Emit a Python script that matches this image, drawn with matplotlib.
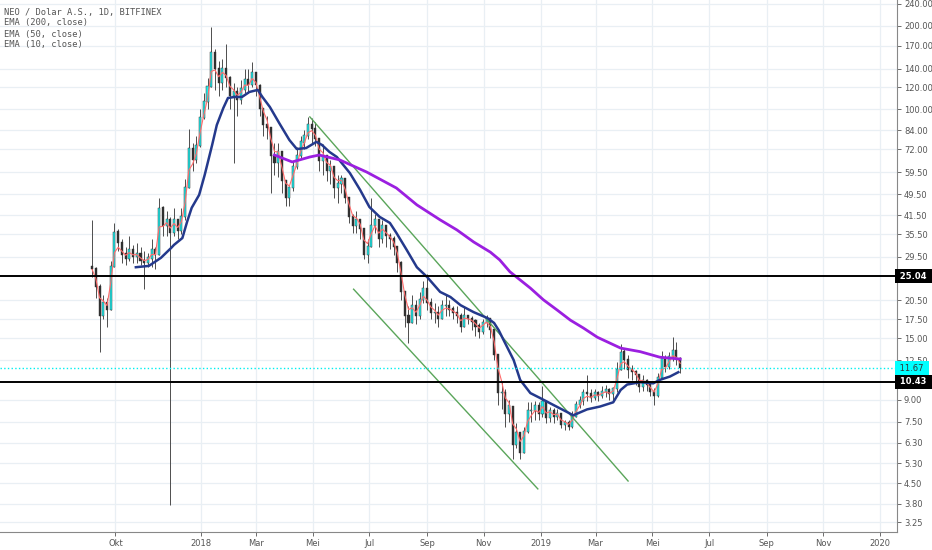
import numpy as np
import pandas as pd
import matplotlib
matplotlib.use("Agg")
import matplotlib.pyplot as plt
import matplotlib.dates as mdates
import matplotlib.transforms as mtransforms
from matplotlib.ticker import NullLocator

# 4-day candles, first one on 2017-09-06
candle_start = "2017-09-06"
first_open = 27.0
closes = [
    26.5, 23, 18, 20, 19, 27, 36, 33, 30, 29,
    31, 29.5, 30, 28.5, 28, 29, 31, 30, 44, 38,
    40, 36, 40, 36.5, 41, 52, 72, 66, 74, 93,
    106, 120, 160, 140, 125, 140, 130, 112, 115, 108,
    118, 128, 122, 135, 122, 100, 88, 86, 68, 64,
    70, 55, 48, 52, 62, 68, 76, 80, 88, 85,
    78, 65, 68, 60, 62, 52, 54, 56, 48, 41,
    38, 40, 37, 30, 32, 38, 40, 34, 38, 35,
    34, 32, 28, 22, 18, 17, 19.5, 18, 20.5, 22.5,
    20, 18.5, 18.5, 17.5, 19.5, 19.5, 19, 18.5, 18, 16.5,
    18, 17.5, 17.2, 16.5, 15.8, 17, 17.5, 16, 13, 9.5,
    9.5, 8, 8.5, 6.2, 6.8, 5.8, 6.9, 8.2, 8.2, 8.5,
    8, 8.8, 7.7, 8.2, 7.8, 8, 7.3, 7.4, 7.2, 7.8,
    8.6, 8.9, 9.5, 9.4, 9.1, 9.5, 9.3, 9.6, 9.7, 9.4,
    9.8, 11.5, 13.3, 12.5, 11.5, 11.3, 11, 10, 10.5, 10.2,
    9.6, 9.3, 10.8, 12.6, 11.8, 12.8, 13.5, 12.6, 11.67,
]
highs = [
    40, 27, 23.5, 21.5, 21, 28.5, 39, 37, 34, 32,
    35, 32.5, 33, 32, 31, 30.5, 34, 32, 48, 45,
    43, 41, 44, 40, 44, 56, 85, 76, 80, 100,
    115, 130, 198, 165, 150, 152, 172, 132, 125, 120,
    128, 140, 140, 148, 136, 124, 100, 95, 85, 76,
    76, 66, 53, 53, 65, 73, 80, 84, 94, 93,
    90, 78, 75, 68, 66, 60, 58, 58, 56, 47,
    42, 43, 40, 36, 34, 48, 42, 38, 40, 37,
    36, 35, 31, 28.5, 21.5, 19.5, 21.5, 20.5, 22, 24,
    25.5, 21, 20, 19.5, 20.5, 21.5, 20.5, 19.5, 19.5, 18.5,
    19.5, 18.2, 18, 17.5, 17, 17.5, 18.2, 17.5, 16, 12.5,
    10.5, 9.8, 9, 8.3, 7.4, 6.8, 7.2, 8.8, 8.8, 8.9,
    8.8, 10.1, 9, 8.5, 8.4, 8.3, 7.8, 7.6, 7.6, 8.2,
    8.9, 9.3, 9.8, 11, 9.8, 9.8, 9.7, 10.1, 10.2, 9.9,
    10, 12.3, 14.3, 13.8, 13, 12, 11.5, 11, 11, 10.7,
    10.2, 9.9, 11.2, 13.5, 13, 13.4, 15.1, 14.5, 12.8,
]
lows = [
    25, 21, 13.4, 17.5, 16.5, 19, 27, 31, 28, 27.5,
    28.5, 28, 28, 27.5, 22.6, 27, 27, 26.5, 30, 35,
    35, 3.75, 35, 34, 35.5, 40, 58, 60, 64, 73,
    92, 100, 125, 118, 112, 118, 120, 100, 64, 95,
    105, 115, 115, 120, 112, 95, 80, 78, 50, 58,
    57, 50, 45, 45, 51, 61, 67, 72, 78, 76,
    74, 60, 58, 55, 54, 48, 46, 50, 46, 39,
    36, 36, 34, 29, 28, 32, 36, 32, 33, 32,
    31.5, 30, 26, 20.5, 16.5, 14.4, 17, 16.8, 17.5, 20,
    19, 17.5, 17, 16.5, 17.5, 18, 18, 17.5, 17, 15.8,
    16.8, 16.8, 16, 15.3, 15, 15.5, 16.5, 15, 12.5, 8.6,
    8.3, 7.2, 7.5, 5.5, 6, 5.5, 5.9, 6.8, 7.5, 7.6,
    7.6, 7.8, 7.4, 7.5, 7.4, 7.6, 7.1, 7.0, 7.0, 7.1,
    7.8, 8.4, 8.6, 8.9, 8.8, 9, 8.9, 9.1, 9.2, 9,
    9, 9.6, 11.5, 11.6, 10.8, 10.6, 10.2, 9.6, 9.7, 9.7,
    9.3, 8.6, 9.2, 10.8, 11.3, 11.6, 12.4, 12.0, 11.2,
]

# EMA lines
ema50_dates = [
    "2017-10-23", "2017-11-06", "2017-11-19", "2017-11-30", "2017-12-03",
    "2017-12-12", "2017-12-17", "2017-12-22", "2017-12-30", "2018-01-05",
    "2018-01-13", "2018-01-18", "2018-01-25", "2018-01-30", "2018-02-06",
    "2018-02-14", "2018-02-22", "2018-03-03", "2018-03-08", "2018-03-16",
    "2018-03-26", "2018-04-06", "2018-04-14", "2018-04-24", "2018-05-05",
    "2018-05-11", "2018-05-19", "2018-05-27", "2018-06-10", "2018-06-21",
    "2018-07-01", "2018-07-12", "2018-07-23", "2018-07-30", "2018-08-10",
    "2018-08-21", "2018-09-01", "2018-09-15", "2018-09-26", "2018-10-07",
    "2018-10-21", "2018-11-05", "2018-11-12", "2018-11-17", "2018-11-22",
    "2018-12-03", "2018-12-10", "2018-12-21", "2019-01-01", "2019-01-15",
    "2019-01-30", "2019-02-05", "2019-02-20", "2019-03-06", "2019-03-20",
    "2019-03-28", "2019-04-04", "2019-04-18", "2019-05-02", "2019-05-09",
    "2019-05-20", "2019-05-29",
]
ema50_values = [
    27.0, 27.3, 29.2, 31.7, 32.5,
    34.4, 39.3, 44.2, 49.2, 58.1,
    74.5, 87.9, 101.2, 110.0, 110.9,
    110.9, 115.6, 117.6, 110.9, 102.1,
    89.4, 77.6, 72.0, 72.6, 76.4,
    74.5, 70.3, 67.4, 59.0, 51.3,
    44.5, 41.0, 39.0, 35.9, 31.2,
    27.0, 24.9, 22.0, 21.1, 19.7,
    18.6, 17.7, 17.0, 16.0, 14.8,
    12.5, 10.6, 9.5, 9.1, 8.6,
    8.1, 7.9, 8.3, 8.5, 8.8,
    9.75, 10.2, 10.4, 10.3, 10.6,
    10.9, 11.3,
]
ema200_dates = [
    "2018-03-21", "2018-04-09", "2018-04-17", "2018-04-28", "2018-05-08",
    "2018-05-30", "2018-06-28", "2018-07-30", "2018-08-21", "2018-09-15",
    "2018-10-03", "2018-10-21", "2018-11-08", "2018-11-18", "2018-11-29",
    "2018-12-06", "2018-12-21", "2019-01-04", "2019-01-19", "2019-02-02",
    "2019-02-16", "2019-03-03", "2019-03-28", "2019-04-18", "2019-05-09",
    "2019-05-31",
]
ema200_values = [
    68.5, 64.7, 65.8, 67.4, 68.5,
    65.8, 59.5, 52.1, 45.3, 40.0,
    36.8, 33.3, 30.6, 28.7, 26.0,
    24.9, 22.7, 20.6, 18.9, 17.4,
    16.3, 15.1, 13.8, 13.4, 12.8,
    12.6,
]

# drawn trendlines (start, end)
upper_trend_dates = ["2018-04-28", "2019-04-05"]
upper_trend_prices = [94.0, 4.58]
lower_trend_dates = ["2018-06-14", "2018-12-29"]
lower_trend_prices = [22.5, 4.29]

support_levels = [25.04, 10.43]
last_price = 11.67

ytick_values = [240, 200, 170, 140, 120, 100, 84, 72, 59.5, 49.5, 41.5, 35.5,
                29.5, 20.5, 17.5, 15, 12.5, 9, 7.5, 6.3, 5.3, 4.5, 3.8, 3.25]
xtick_dates = ["2017-10-01", "2018-01-01", "2018-03-01", "2018-05-01", "2018-07-01",
               "2018-09-01", "2018-11-01", "2019-01-01", "2019-03-01", "2019-05-01",
               "2019-07-01", "2019-09-01", "2019-11-01", "2020-01-01"]
xtick_labels = ["Okt", "2018", "Mar", "Mei", "Jul", "Sep", "Nov", "2019",
                "Mar", "Mei", "Jul", "Sep", "Nov", "2020"]
legend_lines = ["NEO / Dolar A.S., 1D, BITFINEX", "EMA (200, close)",
                "EMA (50, close)", "EMA (10, close)"]

# ---- build ----
dates = pd.date_range(candle_start, periods=len(closes), freq="4D")
close_arr = np.array(closes, dtype=float)
open_arr = np.concatenate([[first_open], close_arr[:-1]])
high_arr = np.maximum(np.array(highs, dtype=float), np.maximum(open_arr, close_arr))
low_arr = np.minimum(np.array(lows, dtype=float), np.minimum(open_arr, close_arr))
xnum = mdates.date2num(dates)

# EMA 10 on daily bars -> equivalent smoothing on 4-day bars
alpha4 = 1 - (1 - 2 / 11) ** 4
ema10 = pd.Series(close_arr).ewm(alpha=alpha4, adjust=False).mean().values

fig = plt.figure(figsize=(9.32, 5.5), dpi=100)
ax = fig.add_axes([0, 18 / 550, 897 / 932, 532 / 550])
ax.set_yscale("log")
ax.set_xlim(mdates.datestr2num("2017-05-30"), mdates.datestr2num("2020-01-19"))
ax.set_ylim(3.0, 248)

grid_c = "#e9eff4"
for d in xtick_dates:
    ax.axvline(mdates.datestr2num(d), color=grid_c, lw=0.9, zorder=0)
for v in ytick_values:
    ax.axhline(v, color=grid_c, lw=0.9, zorder=0)

# candles
up = close_arr >= open_arr
ax.vlines(xnum, low_arr, high_arr, color="#4d4d4d", lw=0.7, zorder=2)
body_lo = np.minimum(open_arr, close_arr)
body_h = np.abs(close_arr - open_arr) + body_lo * 0.01
ax.bar(xnum[up], body_h[up], bottom=body_lo[up], width=2.2, color="#19f0f0",
       edgecolor="#3a3a3a", linewidth=0.35, zorder=3)
ax.bar(xnum[~up], body_h[~up], bottom=body_lo[~up], width=2.2, color="#303030",
       edgecolor="#303030", linewidth=0.3, zorder=3)

# indicators
ax.plot(xnum, ema10, color="#ff6b6b", lw=0.8, zorder=4)
ax.plot(mdates.datestr2num(ema50_dates), ema50_values, color="#24398c", lw=1.8,
        zorder=5, solid_joinstyle="round")
ax.plot(mdates.datestr2num(ema200_dates), ema200_values, color="#9b1fe0", lw=2.0,
        zorder=5, solid_joinstyle="round")

# trendlines
ax.plot(mdates.datestr2num(upper_trend_dates), upper_trend_prices, color="#5aa55a", lw=1.0, zorder=4)
ax.plot(mdates.datestr2num(lower_trend_dates), lower_trend_prices, color="#5aa55a", lw=1.0, zorder=4)

# levels
for lv in support_levels:
    ax.axhline(lv, color="black", lw=1.4, zorder=6)
ax.axhline(last_price, color="#00f0f0", lw=1.0, ls=":", zorder=6)

# axes styling
for s in ["top", "left"]:
    ax.spines[s].set_visible(False)
ax.spines["right"].set_color("#888888")
ax.spines["bottom"].set_color("#888888")
ax.yaxis.tick_right()
ax.set_yticks(ytick_values)
ax.set_yticklabels([f"{v:.2f}" for v in ytick_values])
ax.yaxis.set_minor_locator(NullLocator())
ax.set_xticks(mdates.datestr2num(xtick_dates))
ax.set_xticklabels(xtick_labels)
ax.tick_params(axis="both", labelsize=6, colors="#555555", length=3, width=0.6, pad=2)

trans = mtransforms.blended_transform_factory(ax.transAxes, ax.transData)
for lv in support_levels:
    ax.text(1.0, lv, f" {lv:.2f} ", transform=trans, ha="left", va="center",
            fontsize=6, color="white", fontweight="bold", clip_on=False, zorder=10,
            bbox=dict(boxstyle="square,pad=0.3", fc="black", ec="none"))
ax.text(1.0, last_price, f" {last_price:.2f} ", transform=trans, ha="left", va="center",
        fontsize=6, color="#333333", clip_on=False, zorder=10,
        bbox=dict(boxstyle="square,pad=0.3", fc="#00ffff", ec="none"))

for i, line in enumerate(legend_lines):
    ax.text(0.005, 1 - (12 + 11 * i) / 532, line, transform=ax.transAxes,
            fontsize=6.3, family="DejaVu Sans Mono", color="#555555", va="center")

fig.savefig("out.png", dpi=100)
